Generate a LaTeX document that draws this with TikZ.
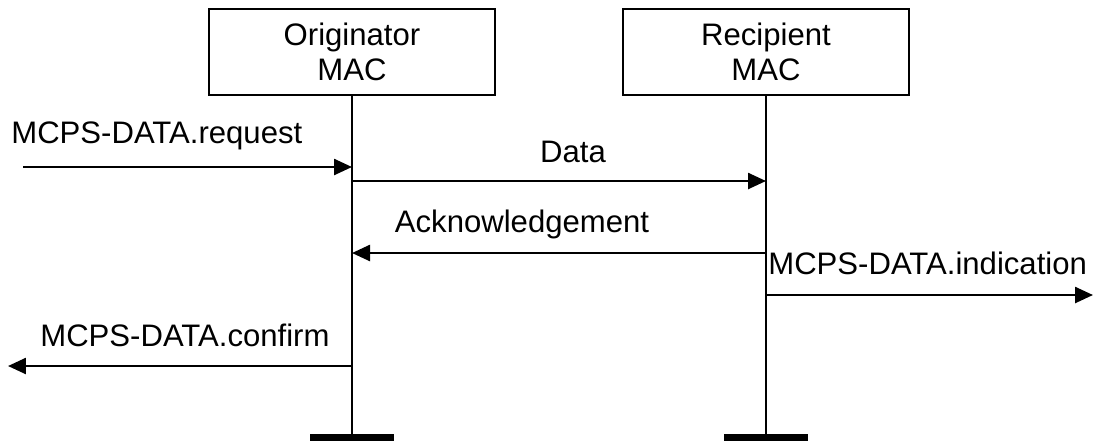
\documentclass[tikz,border=0pt]{standalone}
\usepackage{fontspec}
\setmainfont{Liberation Sans}
\usetikzlibrary{arrows.meta,positioning}

\begin{document}
\begin{tikzpicture}[x=0.02cm, y=-0.02cm,
    every node/.style={font=\fontsize{17.7}{20.2}\selectfont},
    macbox/.style={draw, rectangle, line width=0.045cm, minimum width=5.72cm, minimum height=1.72cm, align=center, inner sep=0pt},
    lifeline/.style={line width=0.045cm},
    endbar/.style={line width=0.14cm},
    msg/.style={line width=0.05cm, -{Triangle[length=0.36cm, width=0.32cm]}},
    lbl/.style={inner sep=0pt, anchor=base west}]
    \useasboundingbox (0,0) rectangle (1095,441);

    % MAC entities
    \node[macbox] (orig) at (352,52) {Originator\\MAC};
    \node[macbox] (recip) at (766,52) {Recipient\\MAC};

    % Lifelines with end bars
    \coordinate (origend) at (352,437);
    \coordinate (recipend) at (766,437);
    \draw[lifeline] (orig.south) -- (origend);
    \draw[lifeline] (recip.south) -- (recipend);
    \draw[endbar] ([xshift=-0.84cm]origend) -- ([xshift=0.84cm]origend);
    \draw[endbar] ([xshift=-0.84cm]recipend) -- ([xshift=0.84cm]recipend);

    % Message heights
    \coordinate (reqin) at (23,167);
    \coordinate (datay) at (0,181);
    \coordinate (acky) at (0,253);
    \coordinate (indout) at (1093,295);
    \coordinate (cnfout) at (8,366);

    % Primitives and frames
    \draw[msg] (reqin) -- (orig |- reqin);
    \node[lbl] (reqlbl) at (11,143) {MCPS-DATA.request};

    \draw[msg] (orig |- datay) -- (recip |- datay);
    \node[lbl, anchor=base] (datalbl) at (573,162) {Data};

    \draw[msg] (recip |- acky) -- (orig |- acky);
    \node[lbl, anchor=base] (acklbl) at (522,232) {Acknowledgement};

    \draw[msg] (recip |- indout) -- (indout);
    \node[lbl] (indlbl) at (768,274) {MCPS-DATA.indication};

    \draw[msg] (orig |- cnfout) -- (cnfout);
    \node[lbl] (cnflbl) at (40,346) {MCPS-DATA.confirm};
\end{tikzpicture}
\end{document}
